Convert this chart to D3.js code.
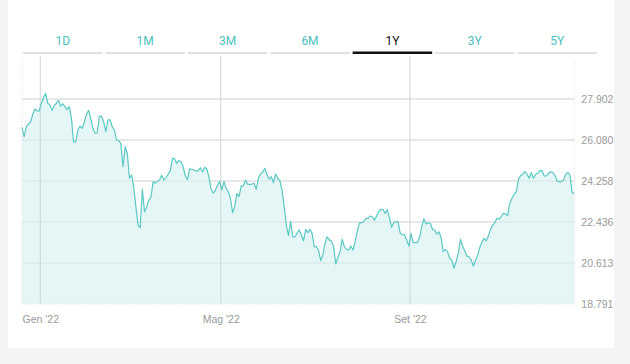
<!DOCTYPE html>
<html>
<head>
<meta charset="utf-8">
<script src="https://cdn.jsdelivr.net/npm/d3@7/dist/d3.min.js"></script>
<style>
    body { margin: 0; background: #f3f4f6; font-family: Roboto, "DejaVu Sans", sans-serif; }
    .card { fill: #ffffff; }
    .tab text { font-size: 12px; fill: #4cbfbb; text-anchor: middle; }
    .tab.active text { fill: #111111; }
    .axis text { font-size: 10.5px; fill: #9a9a9a; }
    .axis path, .axis line { display: none; }
</style>
</head>
<body>
<svg id="chart"></svg>
<script>
// periods shown as tabs above the chart
var ranges = ["1D", "1M", "3M", "6M", "1Y", "3Y", "5Y"];
var activeRange = "1Y";

// trading session number (0 = first session shown) and closing price
var sessions = [0, 1, 2, 4, 5, 6, 7, 8, 9, 10, 11, 12, 13, 14, 15, 17, 18, 19, 20, 21,
    22, 23, 24, 25, 26, 27, 28, 29, 30, 31, 32, 33, 34, 35, 36, 37, 38, 39, 40, 41,
    42, 43, 44, 45, 46, 47, 48, 49, 50, 51, 52, 53, 54, 55, 56, 57, 58, 59, 60, 61,
    62, 63, 64, 65, 66, 67, 68, 69, 70, 71, 72, 73, 74, 75, 76, 77, 78, 79, 81, 82,
    83, 84, 85, 86, 87, 88, 89, 90, 91, 92, 93, 94, 95, 96, 97, 98, 99, 100, 101, 102,
    103, 104, 105, 106, 107, 108, 109, 110, 111, 112, 113, 114, 115, 116, 117, 118, 119, 120, 121, 122,
    123, 124, 125, 126, 127, 128, 129, 130, 131, 132, 133, 134, 135, 136, 137, 138, 139, 140, 141, 142,
    143, 144, 145, 146, 147, 148, 149, 150, 151, 152, 153, 154, 155, 156, 157, 158, 159, 160, 161, 162,
    163, 164, 165, 166, 167, 168, 169, 170, 171, 172, 173, 174, 175, 176, 177, 178, 179, 180, 181, 182,
    183, 184, 185, 186, 187, 188, 189, 190, 191, 192, 193, 194, 195, 196, 197, 198, 199, 200, 201, 202,
    203, 204, 205, 206, 207, 208, 209, 210, 211, 212, 213, 214, 215, 216, 217, 218, 219, 220, 221, 222,
    223, 224, 225, 226, 227, 228, 229, 230, 231, 232, 233, 234, 235, 236, 237, 238, 239, 240, 241, 242,
    243, 244, 245, 246, 247, 248, 249, 250, 251, 252, 253, 254, 255, 256, 257];

var prices = [26.63, 26.23, 26.67, 26.89, 27.22, 27.46, 27.37, 27.37, 27.71, 27.96, 28.15, 27.71, 27.64, 27.40, 27.60, 27.84, 27.59, 27.69, 27.56, 27.43,
    27.56, 27.04, 26.00, 26.00, 26.52, 26.70, 26.60, 26.87, 27.22, 27.40, 27.04, 26.60, 26.38, 26.40, 27.12, 27.15, 26.89, 26.45, 26.98, 26.97,
    26.67, 26.52, 26.08, 26.05, 25.93, 24.89, 25.78, 25.49, 24.38, 24.52, 24.00, 23.12, 22.30, 22.18, 23.89, 22.89, 23.09, 23.41, 23.53, 24.23,
    24.16, 24.24, 24.30, 24.51, 24.30, 24.40, 24.56, 24.72, 25.27, 25.25, 25.04, 25.16, 25.12, 24.89, 24.48, 24.33, 24.80, 24.78, 24.70, 24.72,
    24.85, 24.66, 24.87, 24.79, 24.43, 23.89, 23.71, 23.86, 24.08, 24.23, 23.86, 24.23, 23.93, 23.78, 23.49, 22.85, 23.12, 23.71, 23.56, 24.04,
    24.04, 24.30, 24.12, 24.11, 24.12, 24.16, 23.89, 24.38, 24.57, 24.66, 24.82, 24.54, 24.33, 24.45, 24.18, 24.57, 24.38, 24.27, 23.86, 23.12,
    22.30, 21.83, 22.45, 21.78, 21.77, 21.95, 22.08, 21.86, 21.60, 22.11, 21.96, 22.11, 21.93, 21.34, 21.34, 21.19, 20.72, 20.97, 21.49, 21.78,
    21.64, 21.59, 21.34, 20.57, 20.87, 21.12, 21.67, 21.34, 21.22, 21.19, 21.37, 21.19, 21.56, 22.00, 22.40, 22.40, 22.45, 22.60, 22.60, 22.70,
    22.67, 22.52, 22.70, 22.90, 22.99, 22.99, 22.81, 22.99, 22.60, 22.20, 22.40, 22.45, 22.45, 21.93, 21.89, 21.86, 21.64, 21.37, 21.93, 21.52,
    21.52, 21.52, 21.76, 22.23, 22.58, 22.35, 22.40, 22.38, 22.11, 22.08, 21.90, 22.00, 21.76, 21.12, 21.22, 21.12, 20.82, 20.75, 20.38, 20.67,
    21.04, 21.67, 21.37, 21.16, 20.92, 20.89, 20.75, 20.48, 20.72, 20.95, 21.30, 21.52, 21.71, 21.60, 21.81, 22.11, 22.30, 22.40, 22.60, 22.56,
    22.67, 22.82, 22.79, 22.72, 23.27, 23.49, 23.67, 23.78, 24.33, 24.49, 24.56, 24.67, 24.56, 24.38, 24.63, 24.38, 24.56, 24.60, 24.72, 24.72,
    24.48, 24.48, 24.60, 24.67, 24.63, 24.52, 24.26, 24.23, 24.23, 24.30, 24.57, 24.63, 24.52, 23.74, 23.71];

// price axis ticks and month boundaries (in sessions)
var yMin = 18.791;
var yMax = 29.724;
var yTicks = [18.791, 20.613, 22.436, 24.258, 26.080, 27.902];
var monthTicks = [8.5, 92.5, 180.5];
var monthLabels = ["Gen '22", "Mag '22", "Set '22"];

function init() {
    var w = 630;
    var h = 364;

    var left = 22, right = 574.3, top = 58, bottom = 304;

    var dataset = sessions.map(function(s, i) {
        return { session: s, price: prices[i] };
    });

    var svg = d3.select("#chart")
                .attr("width", w)
                .attr("height", h);

    //white card
    svg.append("rect")
        .attr("class", "card")
        .attr("x", 8)
        .attr("y", -10)
        .attr("width", 606)
        .attr("height", 358);

    //tabs
    var tabScale = d3.scaleBand()
                     .domain(ranges)
                     .range([23, 597])
                     .paddingInner(0.035);

    var tabs = svg.selectAll(".tab")
                  .data(ranges)
                  .enter()
                  .append("g")
                  .attr("class", function(d) { return d === activeRange ? "tab active" : "tab"; })
                  .attr("transform", function(d) { return "translate(" + tabScale(d) + ",0)"; });

    tabs.append("text")
        .attr("x", tabScale.bandwidth() / 2)
        .attr("y", 45)
        .text(function(d) { return d; });

    tabs.append("rect")
        .attr("y", function(d) { return d === activeRange ? 51.5 : 52; })
        .attr("width", tabScale.bandwidth())
        .attr("height", function(d) { return d === activeRange ? 2.5 : 2; })
        .attr("fill", function(d) { return d === activeRange ? "#111111" : "#dfe2e5"; });

    //scales
    var xScale = d3.scaleLinear()
                   .domain([0, 257])
                   .range([left, right]);

    var yScale = d3.scaleLinear()
                   .domain([yMin, yMax])
                   .range([bottom, top]);

    //grid
    svg.append("g")
        .selectAll("line")
        .data(yTicks.slice(1))
        .enter()
        .append("line")
        .attr("x1", left)
        .attr("x2", right)
        .attr("y1", function(d) { return yScale(d); })
        .attr("y2", function(d) { return yScale(d); })
        .attr("stroke", "#dcdcdc")
        .attr("stroke-width", 1);

    //area + line
    var area = d3.area()
                 .x(function(d) { return xScale(d.session); })
                 .y0(yScale(yMin))
                 .y1(function(d) { return yScale(d.price); });

    var line = d3.line()
                 .x(function(d) { return xScale(d.session); })
                 .y(function(d) { return yScale(d.price); });

    svg.append("path")
        .datum(dataset)
        .attr("fill", "#e4f6f6")
        .attr("d", area);

    // grid lines show through the light fill
    svg.append("g")
        .selectAll("line")
        .data(yTicks.slice(1))
        .enter()
        .append("line")
        .attr("x1", left)
        .attr("x2", right)
        .attr("y1", function(d) { return yScale(d); })
        .attr("y2", function(d) { return yScale(d); })
        .attr("stroke", "#d2dede")
        .attr("stroke-width", 1)
        .attr("opacity", 0.6);

    //month lines
    svg.append("g")
        .selectAll("line")
        .data(monthTicks)
        .enter()
        .append("line")
        .attr("x1", function(d) { return xScale(d); })
        .attr("x2", function(d) { return xScale(d); })
        .attr("y1", 56)
        .attr("y2", bottom)
        .attr("stroke", "#cfd4d4")
        .attr("stroke-width", 1);

    //dotted frame
    svg.append("path")
        .attr("d", "M" + left + "," + top + "V" + bottom + "H" + right + "V" + top)
        .attr("fill", "none")
        .attr("stroke", "#e2e2e2")
        .attr("stroke-dasharray", "1,2");

    svg.append("path")
        .datum(dataset)
        .attr("fill", "none")
        .attr("stroke", "#5cc8c4")
        .attr("stroke-width", 1.2)
        .attr("stroke-linejoin", "round")
        .attr("d", line);

    //axes
    var xAxis = d3.axisBottom()
                  .scale(xScale)
                  .tickValues(monthTicks)
                  .tickFormat(function(d, i) { return monthLabels[i]; });

    var yAxis = d3.axisRight()
                  .scale(yScale)
                  .tickValues(yTicks)
                  .tickFormat(d3.format(".3f"));

    svg.append("g")
        .attr("class", "axis")
        .attr("transform", "translate(0," + (bottom + 3) + ")")
        .call(xAxis);

    svg.append("g")
        .attr("class", "axis")
        .attr("transform", "translate(" + (right - 2) + ",0)")
        .call(yAxis);
}
window.onload = init;
</script>
</body>
</html>
